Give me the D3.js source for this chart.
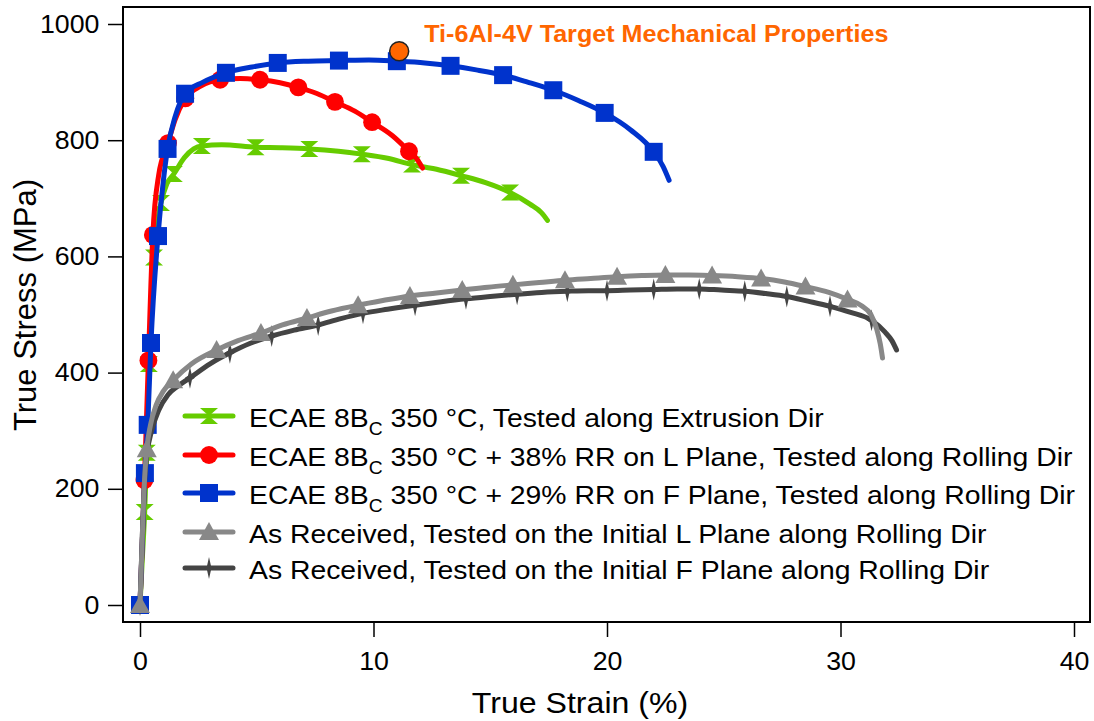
<!DOCTYPE html>
<html>
<head>
<meta charset="utf-8">
<script src="https://cdn.jsdelivr.net/npm/d3@7"></script>
<style>
  html, body { margin: 0; padding: 0; background: #fff; }
  svg { display: block; font-family: "Liberation Sans", Arial, sans-serif; }
</style>
</head>
<body>
<svg id="chart" width="1094" height="721"></svg>
<script>
// Axis ticks
const strainTicks = [0, 10, 20, 30, 40];
const stressTicks = [0, 200, 400, 600, 800, 1000];

// ECAE 8Bc 350 °C, extrusion direction
const ecaeCurve = [[0,0],[0.1,80],[0.2,160],[0.29,262],[0.38,415],[0.5,520],[0.6,598],[0.75,660],[0.9,692],[1.15,725],[1.45,742],[1.9,770],[2.3,785],[2.65,790],[3.5,792],[4.95,788],[6,787],[7.25,785],[8.5,781],[9.5,776],[10.6,769],[11.65,758],[12.7,750],[13.75,739],[14.8,727],[15.85,710],[16.7,690],[17.2,675],[17.45,662]];
const ecaeMarks = [[0,0],[0.2,160],[0.29,262],[0.38,415],[0.6,598],[0.9,692],[1.45,742],[2.65,790],[4.95,788],[7.25,785],[9.5,776],[11.65,758],[13.75,739],[15.85,710]];

// ECAE + 38% RR on L plane
const rrLCurve = [[0,0],[0.1,110],[0.19,215],[0.36,421],[0.55,637],[0.8,740],[1.2,795],[1.5,835],[1.94,872],[2.6,893],[3.43,904],[4.3,906],[5.14,904],[6,899],[6.78,891],[7.6,880],[8.35,866],[9.2,850],[9.94,831],[10.8,808],[11.52,781],[11.85,768],[12.1,752]];
const rrLMarks = [[0,0],[0.19,215],[0.36,421],[0.55,637],[1.2,795],[1.94,872],[3.43,904],[5.14,904],[6.78,891],[8.35,866],[9.94,831],[11.52,781]];

// ECAE + 29% RR on F plane
const rrFCurve = [[0,0],[0.1,110],[0.21,227],[0.33,310],[0.47,451],[0.77,635],[1.0,730],[1.18,785],[1.5,840],[1.93,880],[2.7,900],[3.68,916],[4.8,926],[5.9,933],[7.2,936],[8.52,937],[9.8,938],[11.0,936],[12.2,933],[13.3,928],[14.4,921],[15.55,912],[16.6,900],[17.7,886],[18.8,868],[19.9,847],[21.0,818],[22.0,780],[22.4,755],[22.66,731]];
const rrFMarks = [[0,0],[0.21,227],[0.33,310],[0.47,451],[0.77,635],[1.18,785],[1.93,880],[3.68,916],[5.9,933],[8.52,937],[11.0,936],[13.3,928],[15.55,912],[17.7,886],[19.9,847],[22.0,780]];

// As received, initial L plane
const arLCurve = [[0,0],[0.1,120],[0.2,220],[0.29,268],[0.45,310],[0.7,345],[1.0,368],[1.42,387],[2.2,415],[3.28,439],[4.2,455],[5.18,468],[6.1,482],[7.15,494],[8.2,506],[9.34,516],[10.4,524],[11.56,532],[12.7,537],[13.8,542],[14.9,547],[15.97,551],[17.1,555],[18.2,559],[19.3,562],[20.43,565],[21.5,567],[22.5,568],[23.5,568],[24.5,567],[25.6,565],[26.6,562],[27.6,556],[28.5,548],[29.5,538],[30.3,526],[30.9,515],[31.3,500],[31.55,475],[31.7,450],[31.8,425]];
const arLMarks = [[0,0],[0.29,268],[1.42,387],[3.28,439],[5.18,468],[7.15,494],[9.34,516],[11.56,532],[13.8,542],[15.97,551],[18.2,559],[20.43,565],[22.5,568],[24.5,567],[26.6,562],[28.5,548],[30.3,526]];

// As received, initial F plane
const arFCurve = [[0,0],[0.1,120],[0.2,215],[0.3,260],[0.5,300],[0.8,335],[1.2,362],[1.6,376],[2.14,391],[3.0,415],[3.85,434],[4.7,450],[5.64,463],[6.6,473],[7.63,482],[8.6,493],[9.55,502],[10.6,509],[11.78,516],[12.9,522],[13.96,527],[15.0,531],[16.15,535],[17.2,538],[18.3,540],[19.2,541],[20.0,541],[21.0,542],[22.0,543],[23.0,544],[23.95,544],[24.9,542],[25.9,540],[26.8,536],[27.7,531],[28.6,523],[29.55,514],[30.4,504],[31.33,490],[31.9,470],[32.2,455],[32.4,439]];
const arFMarks = [[0,0],[2.14,391],[3.85,434],[5.64,463],[7.63,482],[9.55,502],[11.78,516],[13.96,527],[16.15,535],[18.3,540],[20.0,541],[22.0,543],[23.95,544],[25.9,540],[27.7,531],[29.55,514],[31.33,490]];

// Target property point
const targetPoint = [11.1, 953];
const targetLabel = "Ti-6Al-4V Target Mechanical Properties";

// Series (legend order)
const series = [
  { pre: "ECAE 8B", sub: "C", post: " 350 °C, Tested along Extrusion Dir", curve: ecaeCurve, marks: ecaeMarks, color: "#66cc00", shape: "hourglass" },
  { pre: "ECAE 8B", sub: "C", post: " 350 °C + 38% RR on L Plane, Tested along Rolling Dir", curve: rrLCurve, marks: rrLMarks, color: "#ff0000", shape: "circle" },
  { pre: "ECAE 8B", sub: "C", post: " 350 °C + 29% RR on F Plane, Tested along Rolling Dir", curve: rrFCurve, marks: rrFMarks, color: "#0033cc", shape: "square" },
  { pre: "As Received, Tested on the Initial L Plane along Rolling Dir", sub: "", post: "", curve: arLCurve, marks: arLMarks, color: "#888888", shape: "triangle" },
  { pre: "As Received, Tested on the Initial F Plane along Rolling Dir", sub: "", post: "", curve: arFCurve, marks: arFMarks, color: "#444444", shape: "star" }
];
// Draw order: dark gray beneath light gray, both above the ECAE curves
const drawOrder = [0, 1, 2, 4, 3];

const svg = d3.select("#chart");
const frame = { left: 123, top: 7, right: 1090, bottom: 622 };
const stretch = 1.07; // slightly wide lettering

const x = d3.scaleLinear().domain([0, 40]).range([140, 1074]);
const y = d3.scaleLinear().domain([0, 1000]).range([605, 24]);

function markerPath(shape) {
  switch (shape) {
    case "hourglass": return "M-9,-8L9,-8L0,0L9,8L-9,8L0,0Z";
    case "circle": return d3.symbol(d3.symbolCircle, 250)();
    case "square": return "M-9,-9L9,-9L9,9L-9,9Z";
    case "triangle": return "M0,-10L10,8L-10,8Z";
    case "star": return "M0,-11L2,-2L5,0L2,2L0,11L-2,2L-5,0L-2,-2Z";
  }
}

// Plot frame
svg.append("rect")
  .attr("x", frame.left).attr("y", frame.top)
  .attr("width", frame.right - frame.left).attr("height", frame.bottom - frame.top)
  .attr("fill", "none").attr("stroke", "#000").attr("stroke-width", 2);

// Axes
const yAxis = d3.axisLeft(y).tickValues(stressTicks).tickSize(15).tickPadding(7).tickFormat(d3.format("d"));
svg.append("g").attr("transform", `translate(${frame.left},0)`).call(yAxis)
  .call(g => g.select(".domain").remove())
  .call(g => g.selectAll(".tick line").attr("stroke", "#000").attr("stroke-width", 1.5))
  .call(g => g.selectAll(".tick text").attr("font-size", 25).attr("font-family", "Liberation Sans, Arial, sans-serif")
    .attr("fill", "#000").attr("transform", `scale(${stretch},1)`));

const xAxis = d3.axisBottom(x).tickValues(strainTicks).tickSize(15).tickPadding(15).tickFormat(d3.format("d"));
svg.append("g").attr("transform", `translate(0,${frame.bottom})`).call(xAxis)
  .call(g => g.select(".domain").remove())
  .call(g => g.selectAll(".tick line").attr("stroke", "#000").attr("stroke-width", 1.5))
  .call(g => g.selectAll(".tick text").attr("font-size", 25).attr("font-family", "Liberation Sans, Arial, sans-serif")
    .attr("fill", "#000").attr("transform", `scale(${stretch},1)`));

// Axis titles
svg.append("text").attr("transform", `translate(580,713) scale(${stretch},1)`)
  .attr("text-anchor", "middle").attr("font-size", 30).text("True Strain (%)");
svg.append("text").attr("transform", `translate(36,305) rotate(-90)`)
  .attr("text-anchor", "middle").attr("font-size", 31).text("True Stress (MPa)");

// Curves and markers
const line = d3.line().x(d => x(d[0])).y(d => y(d[1])).curve(d3.curveMonotoneX);
const plot = svg.append("g");
drawOrder.forEach(i => {
  const s = series[i];
  const g = plot.append("g");
  g.append("path").datum(s.curve).attr("d", line)
    .attr("fill", "none").attr("stroke", s.color).attr("stroke-width", 5)
    .attr("stroke-linejoin", "round").attr("stroke-linecap", "round");
  g.selectAll("path.mk").data(s.marks).join("path").attr("class", "mk")
    .attr("d", markerPath(s.shape))
    .attr("transform", d => `translate(${x(d[0])},${y(d[1])})`)
    .attr("fill", s.color);
});

// Target point and label
svg.append("circle").attr("cx", x(targetPoint[0])).attr("cy", y(targetPoint[1])).attr("r", 9.5)
  .attr("fill", "#ff6600").attr("stroke", "#222").attr("stroke-width", 1.5);
svg.append("text").attr("transform", `translate(${x(targetPoint[0]) + 25},42) scale(${stretch},1)`)
  .attr("font-size", 23.5).attr("font-weight", "bold").attr("fill", "#ff6600").text(targetLabel);

// Legend
const legend = svg.append("g");
const rowY = [416, 455, 493, 532, 568];
series.forEach((s, i) => {
  const g = legend.append("g").attr("transform", `translate(0,${rowY[i]})`);
  g.append("line").attr("x1", 185).attr("x2", 233).attr("y1", 0).attr("y2", 0)
    .attr("stroke", s.color).attr("stroke-width", 5).attr("stroke-linecap", "round");
  g.append("path").attr("d", markerPath(s.shape)).attr("transform", "translate(209,0)").attr("fill", s.color);
  const t = g.append("text").attr("transform", `translate(249,11) scale(${stretch},1)`).attr("font-size", 26.5);
  t.append("tspan").text(s.pre);
  if (s.sub) {
    t.append("tspan").attr("font-size", 18).attr("dy", 8).text(s.sub);
    t.append("tspan").attr("dy", -8).text(s.post);
  }
});
</script>
</body>
</html>
